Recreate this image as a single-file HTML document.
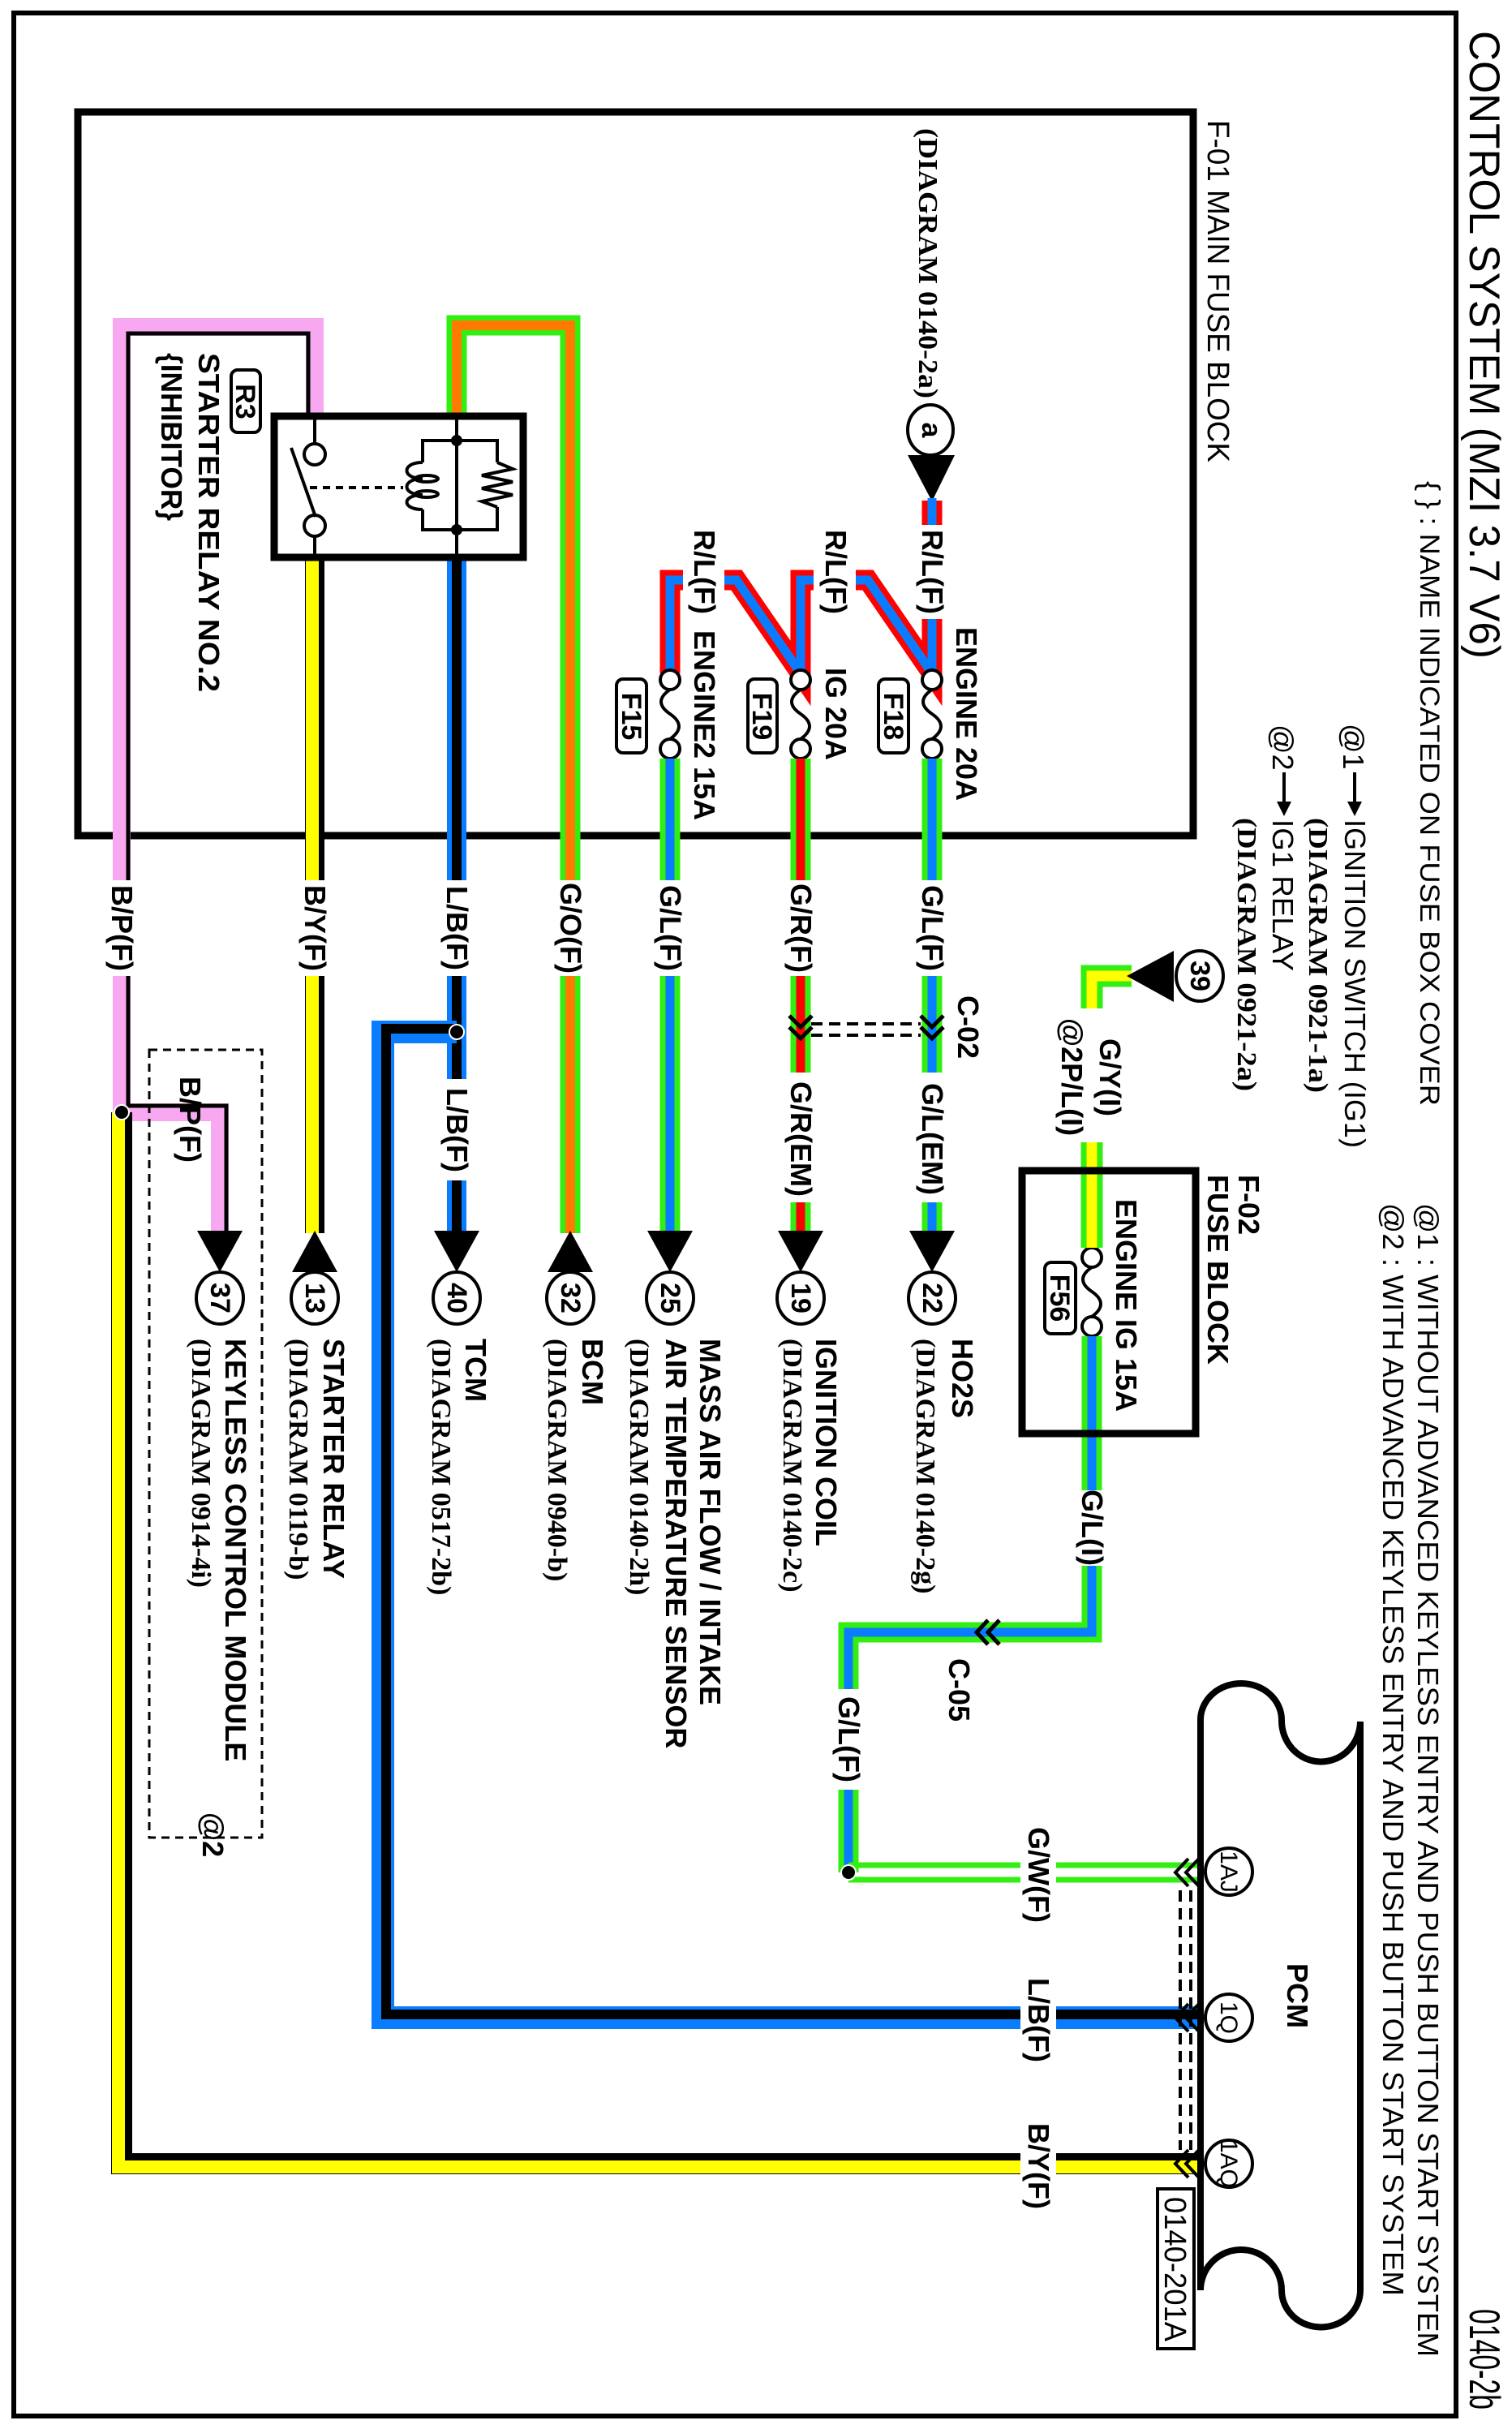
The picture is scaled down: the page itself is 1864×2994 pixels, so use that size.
<!DOCTYPE html>
<html><head><meta charset="utf-8"><style>
html,body{margin:0;padding:0;background:#fff}
svg{display:block}
.b{font-family:"Liberation Sans",sans-serif;font-weight:bold;font-size:34px}
.w{font-family:"Liberation Sans",sans-serif;font-weight:bold;font-size:36px}
.r{font-family:"Liberation Sans",sans-serif;font-size:36px}
.d{font-family:"Liberation Serif",serif;font-weight:bold;font-size:34px}
.n{font-family:"Liberation Sans",sans-serif;font-size:30px}
</style></head><body>
<svg width="1864" height="2994" viewBox="0 0 1864 2994" xmlns="http://www.w3.org/2000/svg">
<rect width="1864" height="2994" fill="#fff"/>
<rect x="17" y="16" width="1778" height="2962" fill="none" stroke="#000" stroke-width="6"/>

<text class="r" style="font-size:53px" transform="translate(1812 38) rotate(90)" textLength="774" lengthAdjust="spacingAndGlyphs">CONTROL SYSTEM (MZI 3.7 V6)</text>
<text class="r" style="font-size:53px" transform="translate(1812 2846) rotate(90)" textLength="124" lengthAdjust="spacingAndGlyphs">0140-2b</text>
<text class="r" style="font-size:34px" transform="translate(1751 593) rotate(90)" textLength="770" lengthAdjust="spacingAndGlyphs">{ } : NAME INDICATED ON FUSE BOX COVER</text>
<text class="r" transform="translate(1656 892) rotate(90)">@1</text>
<line x1="1670" y1="952" x2="1670" y2="990" stroke="#000" stroke-width="4"/><polygon points="1661,988 1679,988 1670,1006" fill="#000"/>
<text class="r" transform="translate(1658 1010) rotate(90)" textLength="405" lengthAdjust="spacingAndGlyphs">IGNITION SWITCH (IG1)</text>
<text class="d" transform="translate(1614 1008) rotate(90)" textLength="339" lengthAdjust="spacingAndGlyphs">(DIAGRAM 0921-1a)</text>
<text class="r" transform="translate(1569 893) rotate(90)">@2</text>
<line x1="1583" y1="952" x2="1583" y2="990" stroke="#000" stroke-width="4"/><polygon points="1574,988 1592,988 1583,1006" fill="#000"/>
<text class="r" transform="translate(1569 1010) rotate(90)" textLength="187" lengthAdjust="spacingAndGlyphs">IG1 RELAY</text>
<text class="d" transform="translate(1526 1008) rotate(90)" textLength="337" lengthAdjust="spacingAndGlyphs">(DIAGRAM 0921-2a)</text>
<text class="r" transform="translate(1748 1483) rotate(90)" textLength="1422" lengthAdjust="spacingAndGlyphs">@1 : WITHOUT ADVANCED KEYLESS ENTRY AND PUSH BUTTON START SYSTEM</text>
<text class="r" transform="translate(1705 1483) rotate(90)" textLength="1347" lengthAdjust="spacingAndGlyphs">@2 : WITH ADVANCED KEYLESS ENTRY AND PUSH BUTTON START SYSTEM</text>

<rect x="96" y="138" width="1375" height="892" fill="none" stroke="#000" stroke-width="9"/>
<text class="r" style="font-size:38px" transform="translate(1489 148) rotate(90)" textLength="422" lengthAdjust="spacingAndGlyphs">F-01  MAIN FUSE BLOCK</text>
<text class="d" transform="translate(1133 158) rotate(90)" textLength="333" lengthAdjust="spacingAndGlyphs">(DIAGRAM 0140-2a)</text>
<ellipse cx="1147" cy="530" rx="28" ry="31" fill="#fff" stroke="#000" stroke-width="4"/>
<text class="b" text-anchor="middle" transform="translate(1137 530) rotate(90)">a</text>
<polygon points="1119,561 1177,561 1149,618" fill="#000"/>

<g fill="none" stroke-linejoin="miter">
<g stroke="#f00" stroke-width="25">
<path d="M1149,617V647M1149,763V830L1070,715H1055M1003,715H987V830L908,715H893M842,715H826V830"/>
</g>
<g stroke="#0a7cff" stroke-width="11">
<path d="M1149,614V647M1149,763V830L1070,715H1055M1003,715H987V830L908,715H893M842,715H826V830"/>
</g>
</g>
<text class="w" text-anchor="middle" transform="translate(1137 705) rotate(90)">R/L(F)</text>
<text class="w" text-anchor="middle" transform="translate(1018 705) rotate(90)">R/L(F)</text>
<text class="w" text-anchor="middle" transform="translate(856 705) rotate(90)">R/L(F)</text>
<text class="w" transform="translate(1179 773) rotate(90)">ENGINE 20A</text>
<text class="w" transform="translate(1018 823) rotate(90)">IG 20A</text>
<text class="w" transform="translate(856 777) rotate(90)">ENGINE2 15A</text>

<g fill="#fff" stroke="#000" stroke-width="4">
<circle cx="1149" cy="838" r="12"/><circle cx="1149" cy="923" r="12"/>
<circle cx="987" cy="838" r="12"/><circle cx="987" cy="923" r="12"/>
<circle cx="826" cy="838" r="12"/><circle cx="826" cy="923" r="12"/>
<circle cx="1346" cy="1550" r="12"/><circle cx="1346" cy="1635" r="12"/>
</g>
<g fill="none" stroke="#000" stroke-width="4">
<path d="M1149,850Q1127,865 1149,880T1149,911"/>
<path d="M987,850Q965,865 987,880T987,911"/>
<path d="M826,850Q804,865 826,880T826,911"/>
<path d="M1346,1562Q1324,1577 1346,1592T1346,1623"/>
</g>
<g fill="#fff" stroke="#000" stroke-width="4">
<rect x="1083" y="837" width="37" height="91" rx="8"/>
<rect x="922" y="837" width="36" height="91" rx="8"/>
<rect x="760" y="837" width="37" height="91" rx="8"/>
<rect x="1288" y="1556" width="38" height="88" rx="8"/>
<rect x="285" y="456" width="36" height="77" rx="8"/>
</g>
<text class="b" text-anchor="middle" transform="translate(1090 883) rotate(90)">F18</text>
<text class="b" text-anchor="middle" transform="translate(928 883) rotate(90)">F19</text>
<text class="b" text-anchor="middle" transform="translate(767 883) rotate(90)">F15</text>
<text class="b" text-anchor="middle" transform="translate(1295 1600) rotate(90)">F56</text>
<text class="b" text-anchor="middle" transform="translate(291 495) rotate(90)">R3</text>
<text class="w" transform="translate(245 435) rotate(90)" textLength="418" lengthAdjust="spacingAndGlyphs">STARTER RELAY NO.2</text>
<text class="w" transform="translate(199 435) rotate(90)" textLength="207" lengthAdjust="spacingAndGlyphs">{INHIBITOR}</text>

<g fill="none">
<path d="M1149,935V1085M1149,1203V1322M1149,1482V1520M826,935V1085M826,1203V1520M1346,1647V1837M1346,1930V2012H1046V2082M1046,2206V2308" stroke="#33ee11" stroke-width="25"/>
<path d="M1149,935V1085M1149,1203V1322M1149,1482V1520M826,935V1085M826,1203V1520M1346,1647V1837M1346,1930V2012H1046V2082M1046,2206V2308" stroke="#0a7cff" stroke-width="11"/>
<path d="M987,935V1085M987,1203V1322M987,1482V1520" stroke="#33ee11" stroke-width="25"/>
<path d="M987,935V1085M987,1203V1322M987,1482V1520" stroke="#f00" stroke-width="11"/>
<path d="M563,513V401H703V1085M703,1203V1520" stroke="#33ee11" stroke-width="25"/>
<path d="M563,513V401H703V1085M703,1203V1520" stroke="#ff7a00" stroke-width="12"/>
<path d="M1395,1203H1346V1243M1346,1408V1538" stroke="#33ee11" stroke-width="27"/>
<path d="M1395,1203H1346V1243M1346,1408V1538" stroke="#ffff00" stroke-width="13"/>
<path d="M150,1085V403H388V513" stroke="#f7a8f0" stroke-width="22"/>
<path d="M158,1085V411H380V513" stroke="#000" stroke-width="5"/>
<path d="M150,1203V1371H271V1520" stroke="#f7a8f0" stroke-width="22"/>
<path d="M158,1203V1363H279V1520" stroke="#000" stroke-width="5"/>
<path d="M388,687V1085M388,1203V1520" stroke="#000" stroke-width="24"/>
<path d="M385,687V1085M385,1203V1520" stroke="#ffff00" stroke-width="16"/>
<path d="M150,1371V2667H1477" stroke="#000" stroke-width="26"/>
<path d="M148,1371V2669H1477" stroke="#ffff00" stroke-width="20"/>
<path d="M157,1371V2660H1477" stroke="#000" stroke-width="6"/>
<path d="M563,687V1085M563,1203V1330M563,1455V1520" stroke="#0a7cff" stroke-width="24"/>
<path d="M563,687V1085M563,1203V1330M563,1455V1520" stroke="#000" stroke-width="12"/>
<path d="M563,1272H472V2487H1477" stroke="#0a7cff" stroke-width="28"/>
<path d="M563,1268H476V2483H1477" stroke="#000" stroke-width="12"/>
<path d="M1046,2299H1258M1302,2299H1477M1046,2317H1258M1302,2317H1477" stroke="#33ee11" stroke-width="7"/>
</g>
<rect x="1258" y="2460" width="44" height="60" fill="#fff"/>
<rect x="1258" y="2640" width="44" height="60" fill="#fff"/>

<rect x="338" y="513" width="307" height="174" fill="#fff" stroke="#000" stroke-width="9"/>
<g fill="none" stroke="#000" stroke-width="4">
<path d="M388,517V547M388,661V690M563,517V690"/>
<circle cx="388" cy="560" r="13" fill="#fff"/><circle cx="388" cy="648" r="13" fill="#fff"/>
<path d="M359,552L389,637"/>
<path d="M382,601H497" stroke-dasharray="9 7"/>
<path d="M521,570V543H613V570M521,628V653H613V625"/>
<path d="M521,570C495,570 495,590 521,590C495,590 495,610 521,610C495,610 495,628 521,628"/>
<path d="M613,570L632,578L594,586L632,594L594,602L632,610L594,618L613,625"/>
<ellipse cx="526" cy="590" rx="14" ry="4"/><ellipse cx="526" cy="609" rx="14" ry="4"/>
</g>
<circle cx="563" cy="543" r="7"/><circle cx="563" cy="653" r="7"/>

<g class="w" text-anchor="middle">
<text transform="translate(138 1144) rotate(90)">B/P(F)</text>
<text transform="translate(376 1144) rotate(90)">B/Y(F)</text>
<text transform="translate(551 1144) rotate(90)">L/B(F)</text>
<text transform="translate(691 1144) rotate(90)">G/O(F)</text>
<text transform="translate(814 1144) rotate(90)">G/L(F)</text>
<text transform="translate(975 1144) rotate(90)">G/R(F)</text>
<text transform="translate(1137 1144) rotate(90)">G/L(F)</text>
<text transform="translate(1137 1404) rotate(90)">G/L(EM)</text>
<text transform="translate(975 1404) rotate(90)">G/R(EM)</text>
<text transform="translate(551 1393) rotate(90)">L/B(F)</text>
<text transform="translate(222 1380) rotate(90)">B/P(F)</text>
<text transform="translate(1334 1883) rotate(90)">G/L(I)</text>
<text transform="translate(1034 2144) rotate(90)">G/L(F)</text>
<text transform="translate(1268 2311) rotate(90)">G/W(F)</text>
<text transform="translate(1268 2490) rotate(90)">L/B(F)</text>
<text transform="translate(1268 2670) rotate(90)">B/Y(F)</text>
</g>
<text class="w" transform="translate(1356 1280) rotate(90)">G/Y(I)</text>
<text class="w" transform="translate(1309 1255) rotate(90)">@2P/L(I)</text>
<text class="w" transform="translate(1181 1227) rotate(90)">C-02</text>
<text class="w" transform="translate(1170 2044) rotate(90)">C-05</text>

<g fill="none" stroke="#000" stroke-width="5">
<path d="M1000,1262H1135M1000,1276H1135" stroke-width="4" stroke-dasharray="14 8"/>
<path d="M1135,1252L1149,1266L1163,1252M1135,1266L1149,1280L1163,1266"/>
<path d="M973,1252L987,1266L1001,1252M973,1266L987,1280L1001,1266"/>
<path d="M1232,1997L1218,2012L1232,2027M1218,1997L1204,2012L1218,2027"/>
</g>

<rect x="1260" y="1443" width="214" height="324" fill="none" stroke="#000" stroke-width="9"/>
<text class="w" transform="translate(1527 1448) rotate(90)">F-02</text>
<text class="w" transform="translate(1489 1448) rotate(90)">FUSE BLOCK</text>
<text class="w" transform="translate(1376 1478) rotate(90)">ENGINE IG 15A</text>

<polygon points="1389,1203 1447,1172 1447,1235" fill="#000"/>
<ellipse cx="1479" cy="1203" rx="29" ry="31" fill="#fff" stroke="#000" stroke-width="4"/>
<text class="b" text-anchor="middle" transform="translate(1468 1203) rotate(90)">39</text>

<g fill="#000">
<polygon points="1121,1517 1177,1517 1149,1568"/>
<polygon points="959,1517 1015,1517 987,1568"/>
<polygon points="798,1517 854,1517 826,1568"/>
<polygon points="675,1568 731,1568 703,1517"/>
<polygon points="535,1517 591,1517 563,1568"/>
<polygon points="360,1568 416,1568 388,1517"/>
<polygon points="243,1517 299,1517 271,1568"/>
</g>
<g fill="#fff" stroke="#000" stroke-width="4">
<ellipse cx="1149" cy="1600" rx="29" ry="32"/>
<ellipse cx="987" cy="1600" rx="29" ry="32"/>
<ellipse cx="826" cy="1600" rx="29" ry="32"/>
<ellipse cx="703" cy="1600" rx="29" ry="32"/>
<ellipse cx="563" cy="1600" rx="29" ry="32"/>
<ellipse cx="388" cy="1600" rx="29" ry="32"/>
<ellipse cx="271" cy="1600" rx="29" ry="32"/>
</g>
<g class="b" text-anchor="middle">
<text transform="translate(1138 1600) rotate(90)">22</text>
<text transform="translate(976 1600) rotate(90)">19</text>
<text transform="translate(815 1600) rotate(90)">25</text>
<text transform="translate(692 1600) rotate(90)">32</text>
<text transform="translate(552 1600) rotate(90)">40</text>
<text transform="translate(377 1600) rotate(90)">13</text>
<text transform="translate(260 1600) rotate(90)">37</text>
</g>
<g class="w">
<text transform="translate(1174 1650) rotate(90)">HO2S</text>
<text transform="translate(1006 1650) rotate(90)">IGNITION COIL</text>
<text transform="translate(863 1650) rotate(90)">MASS AIR FLOW / INTAKE</text>
<text transform="translate(821 1650) rotate(90)">AIR TEMPERATURE SENSOR</text>
<text transform="translate(718 1650) rotate(90)">BCM</text>
<text transform="translate(574 1650) rotate(90)">TCM</text>
<text transform="translate(399 1650) rotate(90)">STARTER RELAY</text>
<text transform="translate(278 1650) rotate(90)">KEYLESS CONTROL MODULE</text>
</g>
<g class="d">
<text transform="translate(1130 1650) rotate(90)">(DIAGRAM 0140-2g)</text>
<text transform="translate(966 1650) rotate(90)">(DIAGRAM 0140-2c)</text>
<text transform="translate(777 1650) rotate(90)">(DIAGRAM 0140-2h)</text>
<text transform="translate(676 1650) rotate(90)">(DIAGRAM 0940-b)</text>
<text transform="translate(533 1650) rotate(90)">(DIAGRAM 0517-2b)</text>
<text transform="translate(357 1650) rotate(90)">(DIAGRAM 0119-b)</text>
<text transform="translate(237 1650) rotate(90)">(DIAGRAM 0914-4i)</text>
</g>

<rect x="184" y="1294" width="139" height="971" fill="none" stroke="#000" stroke-width="3" stroke-dasharray="10 7"/>
<text class="w" transform="translate(250 2234) rotate(90)">@2</text>

<g fill="#000" stroke="#fff" stroke-width="2">
<circle cx="150" cy="1371" r="9"/><circle cx="563" cy="1272" r="9"/><circle cx="1046" cy="2308" r="9"/>
</g>

<path d="M1480,2823V2120A50,45 0 0 1 1580,2120A48,50 0 0 0 1677,2122V2823A48,45 0 0 1 1580,2823A50,50 0 0 0 1480,2823" fill="none" stroke="#000" stroke-width="8"/>
<g fill="none" stroke="#000" stroke-width="4">
<path d="M1455,2330V2650M1468,2330V2650" stroke-dasharray="14 8"/>
<path d="M1465,2291L1449,2308L1465,2325M1478,2291L1462,2308L1478,2325"/>
<path d="M1465,2470L1449,2487L1465,2504M1478,2470L1462,2487L1478,2504"/>
<path d="M1465,2650L1449,2667L1465,2684M1478,2650L1462,2667L1478,2684"/>
</g>
<g fill="#fff" stroke="#000" stroke-width="4">
<circle cx="1515" cy="2307" r="29"/><circle cx="1515" cy="2487" r="29"/><circle cx="1515" cy="2667" r="29"/>
</g>
<g class="n" text-anchor="middle">
<text transform="translate(1505 2307) rotate(90)">1AJ</text>
<text transform="translate(1505 2487) rotate(90)">1Q</text>
<text transform="translate(1505 2667) rotate(90)">1AQ</text>
</g>
<text class="w" transform="translate(1587 2420) rotate(90)">PCM</text>
<rect x="1427" y="2698" width="45" height="197" fill="#fff" stroke="#000" stroke-width="4"/>
<text class="r" style="font-size:38px" transform="translate(1436 2708) rotate(90)" textLength="178" lengthAdjust="spacingAndGlyphs">0140-201A</text>
</svg>
</body></html>
